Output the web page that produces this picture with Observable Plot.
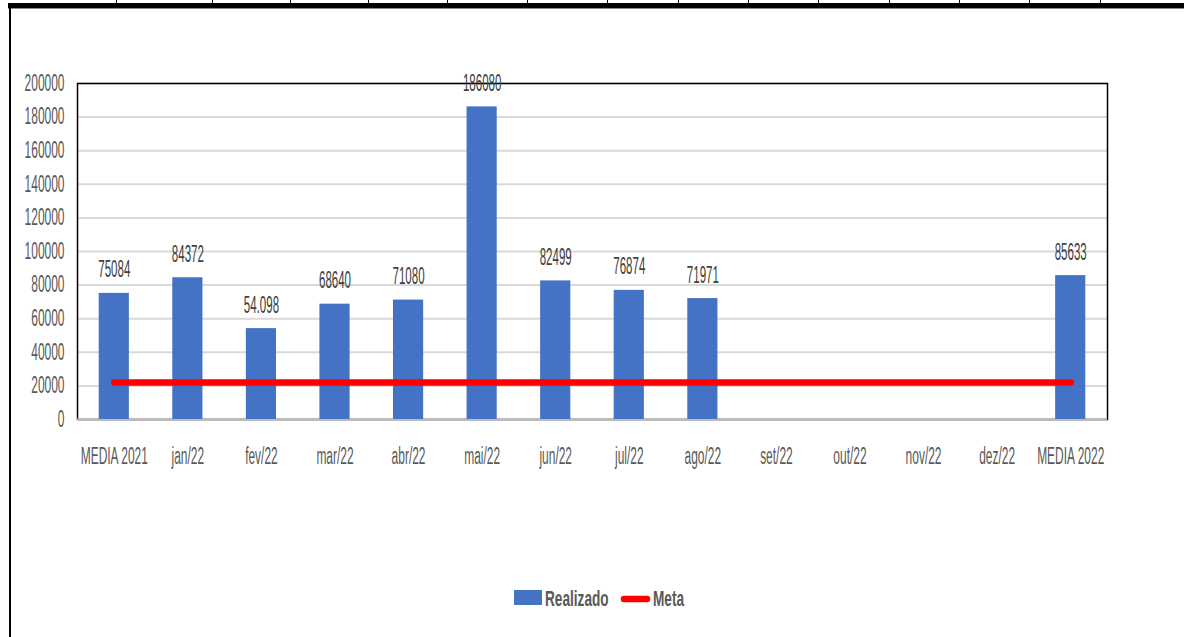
<!DOCTYPE html>
<html>
<head>
<meta charset="utf-8">
<script src="https://cdn.jsdelivr.net/npm/d3@7"></script>
<script src="https://cdn.jsdelivr.net/npm/@observablehq/plot@0.6"></script>
<style>
  html, body { margin: 0; padding: 0; background: #fff; }
  #page { position: relative; width: 1184px; height: 637px; overflow: hidden; background: #fff;
          font-family: "Liberation Sans", Arial, sans-serif; }
  #topbar { position: absolute; left: 8px; top: 3px; width: 1176px; height: 5px; background: #000; border-bottom: 1px solid #888; }
  #leftbar { position: absolute; left: 9px; top: 8px; width: 2px; height: 629px; background: #000; }
  .cell { position: absolute; top: 0; width: 1px; height: 3px; background: #000; }
  #chart { position: absolute; left: 0; top: 0; }
  #legend { position: absolute; left: 0; top: 570px; }
</style>
</head>
<body>
<div id="page">
  <div id="topbar"></div>
  <div id="leftbar"></div>
  <div id="chart"></div>
  <div id="legend"></div>
</div>
<script>
const categories = ["MEDIA 2021","jan/22","fev/22","mar/22","abr/22","mai/22","jun/22","jul/22","ago/22","set/22","out/22","nov/22","dez/22","MEDIA 2022"];
const realizado = [75084, 84372, 54098, 68640, 71080, 186080, 82499, 76874, 71971, null, null, null, null, 85633];
const valueLabels = ["75084","84372","54.098","68640","71080","186080","82499","76874","71971",null,null,null,null,"85633"];
const meta = [22000,22000,22000,22000,22000,22000,22000,22000,22000,22000,22000,22000,22000,22000];
const yTicks = [0,20000,40000,60000,80000,100000,120000,140000,160000,180000,200000];
const seriesNames = ["Realizado", "Meta"];
const seriesColors = ["#4472c4", "#ff0000"];
const cellLines = [116, 212, 290, 368, 447, 527, 607, 678, 748, 818, 889, 959, 1029, 1100];

const page = document.getElementById("page");
for (const x of cellLines) {
  const d = document.createElement("div");
  d.className = "cell"; d.style.left = x + "px";
  page.appendChild(d);
}

const rows = categories.map((c, i) => ({cat: c, value: realizado[i], label: valueLabels[i], meta: meta[i]}));
const bars = rows.filter(d => d.value != null);

const chart = Plot.plot({
  width: 1184,
  height: 480,
  marginLeft: 77,
  marginRight: 77,
  marginTop: 83,
  marginBottom: 61,
  style: {fontFamily: '"Liberation Sans", Arial, sans-serif', fontSize: "23px", color: "#595959", background: "transparent"},
  x: {domain: categories, paddingInner: 0.59, paddingOuter: 0.295, round: false, label: null, tickSize: 0, tickPadding: 28},
  y: {domain: [0, 200000], ticks: yTicks, tickFormat: d3.format("d"), label: null, tickSize: 0, tickPadding: 13},
  marks: [
    Plot.gridY(yTicks, {stroke: "#d9d9d9", strokeOpacity: 1, strokeWidth: 2}),
    Plot.frame({stroke: "#000", strokeWidth: 1.5}),
    Plot.ruleY([0], {stroke: "#bfbfbf", strokeWidth: 2}),
    Plot.barY(bars, {x: "cat", y: "value", fill: seriesColors[0]}),
    Plot.line(rows, {x: "cat", y: "meta", stroke: seriesColors[1], strokeWidth: 6.5, strokeLinecap: "round"}),
    Plot.text(bars, {x: "cat", y: "value", text: "label", dy: -16, lineAnchor: "bottom", fill: "#404040", fontSize: 24})
  ]
});
document.getElementById("chart").appendChild(chart);

// horizontally condense text (narrow Calibri-like look) around each text's anchor
function condense(sel, s) {
  sel.each(function() {
    const t = d3.select(this);
    const tr = t.attr("transform") || "";
    const xx = +(t.attr("x") || 0);
    t.attr("transform", `${tr} translate(${xx},0) scale(${s},1) translate(${-xx},0)`);
  });
}
const isAxisText = function() {
  let n = this.parentNode;
  while (n && n !== chart) {
    const a = n.getAttribute && n.getAttribute("aria-label");
    if (a && a.includes("axis")) return true;
    n = n.parentNode;
  }
  return false;
};
const svg = d3.select(chart);
const allText = svg.selectAll("text");
condense(allText.filter(function() { return !isAxisText.call(this); }), 0.48);
condense(allText.filter(function() { return isAxisText.call(this); }), 0.52);

// legend
const lg = d3.select("#legend").append("svg").attr("width", 1184).attr("height", 50);
lg.append("rect").attr("x", 514).attr("y", 20).attr("width", 28).attr("height", 15).attr("fill", seriesColors[0]);
lg.append("line").attr("x1", 624).attr("x2", 647).attr("y1", 29).attr("y2", 29)
  .attr("stroke", seriesColors[1]).attr("stroke-width", 6.5).attr("stroke-linecap", "round");
const lt = [[545, seriesNames[0]], [653, seriesNames[1]]];
for (const [x, txt] of lt) {
  lg.append("text").attr("x", x).attr("y", 36).text(txt)
    .attr("font-family", '"Liberation Sans", Arial, sans-serif').attr("font-weight", "bold")
    .attr("font-size", 22).attr("fill", "#595959");
}
condense(lg.selectAll("text"), 0.62);
</script>
</body>
</html>
